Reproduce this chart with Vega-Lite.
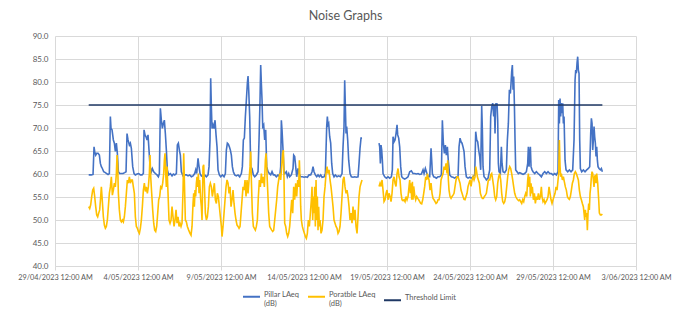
{
  "$schema": "https://vega.github.io/schema/vega-lite/v6.json",
  "width": 581,
  "height": 230,
  "autosize": {"type": "none"},
  "padding": {"left": 55, "top": 36, "right": 39, "bottom": 51},
  "background": "white",
  "title": {"text": "Noise Graphs", "fontSize": 12.5, "font": "Lato", "fontWeight": "normal", "color": "#595959", "offset": 10, "anchor": "middle"},
  "datasets": {
    "pillar": [
      {"day":2.030,"dB":59.8},{"day":2.191,"dB":59.8},{"day":2.291,"dB":59.9},{"day":2.351,"dB":65.9},{"day":2.391,"dB":64.9},{"day":2.452,"dB":64.1},{"day":2.512,"dB":64.5},{"day":2.592,"dB":64.5},{"day":2.673,"dB":64.1},{"day":2.733,"dB":62.3},{"day":2.793,"dB":61.6},{"day":2.853,"dB":61.2},{"day":2.934,"dB":60.5},{"day":3.034,"dB":60.3},{"day":3.114,"dB":60.1},{"day":3.195,"dB":59.9},{"day":3.275,"dB":60.1},{"day":3.335,"dB":72.5},{"day":3.375,"dB":69.9},{"day":3.436,"dB":69.6},{"day":3.516,"dB":67.4},{"day":3.576,"dB":66.7},{"day":3.636,"dB":64.9},{"day":3.697,"dB":66.7},{"day":3.757,"dB":64.5},{"day":3.817,"dB":60.5},{"day":3.897,"dB":60.1},{"day":3.998,"dB":60.1},{"day":4.098,"dB":60.1},{"day":4.199,"dB":60.3},{"day":4.279,"dB":60.5},{"day":4.339,"dB":68.8},{"day":4.399,"dB":67.4},{"day":4.480,"dB":66.3},{"day":4.540,"dB":66.7},{"day":4.600,"dB":65.6},{"day":4.681,"dB":61.6},{"day":4.761,"dB":60.1},{"day":4.841,"dB":59.8},{"day":4.942,"dB":60.0},{"day":5.042,"dB":60.1},{"day":5.142,"dB":59.8},{"day":5.243,"dB":59.8},{"day":5.323,"dB":60.1},{"day":5.363,"dB":69.6},{"day":5.423,"dB":68.5},{"day":5.484,"dB":68.1},{"day":5.544,"dB":67.4},{"day":5.604,"dB":68.5},{"day":5.664,"dB":65.2},{"day":5.725,"dB":61.6},{"day":5.805,"dB":60.5},{"day":5.865,"dB":61.2},{"day":5.946,"dB":60.5},{"day":6.046,"dB":60.1},{"day":6.146,"dB":59.8},{"day":6.227,"dB":59.4},{"day":6.287,"dB":60.1},{"day":6.347,"dB":74.3},{"day":6.407,"dB":71.7},{"day":6.468,"dB":69.9},{"day":6.528,"dB":71.0},{"day":6.588,"dB":71.7},{"day":6.648,"dB":68.8},{"day":6.709,"dB":65.2},{"day":6.769,"dB":60.9},{"day":6.849,"dB":59.8},{"day":6.950,"dB":60.1},{"day":7.050,"dB":59.6},{"day":7.130,"dB":60.0},{"day":7.211,"dB":59.8},{"day":7.311,"dB":60.1},{"day":7.371,"dB":66.3},{"day":7.432,"dB":66.7},{"day":7.492,"dB":65.2},{"day":7.552,"dB":64.1},{"day":7.612,"dB":60.5},{"day":7.713,"dB":59.6},{"day":7.813,"dB":59.8},{"day":7.913,"dB":59.8},{"day":8.014,"dB":59.6},{"day":8.114,"dB":59.8},{"day":8.215,"dB":59.4},{"day":8.315,"dB":59.6},{"day":8.415,"dB":60.1},{"day":8.476,"dB":60.9},{"day":8.536,"dB":60.1},{"day":8.616,"dB":63.4},{"day":8.676,"dB":61.6},{"day":8.737,"dB":60.1},{"day":8.817,"dB":59.6},{"day":8.917,"dB":59.4},{"day":9.018,"dB":59.8},{"day":9.118,"dB":59.4},{"day":9.219,"dB":59.8},{"day":9.279,"dB":61.6},{"day":9.339,"dB":67.4},{"day":9.379,"dB":80.8},{"day":9.419,"dB":74.6},{"day":9.460,"dB":69.9},{"day":9.520,"dB":70.7},{"day":9.580,"dB":69.9},{"day":9.640,"dB":71.7},{"day":9.701,"dB":68.5},{"day":9.761,"dB":65.9},{"day":9.821,"dB":60.9},{"day":9.901,"dB":59.8},{"day":9.982,"dB":59.4},{"day":10.082,"dB":59.8},{"day":10.183,"dB":59.4},{"day":10.263,"dB":60.1},{"day":10.323,"dB":65.2},{"day":10.383,"dB":66.7},{"day":10.444,"dB":66.5},{"day":10.504,"dB":65.9},{"day":10.564,"dB":65.2},{"day":10.624,"dB":64.1},{"day":10.685,"dB":61.6},{"day":10.745,"dB":60.5},{"day":10.825,"dB":59.8},{"day":10.925,"dB":59.6},{"day":11.026,"dB":59.8},{"day":11.126,"dB":59.4},{"day":11.227,"dB":60.1},{"day":11.287,"dB":61.6},{"day":11.347,"dB":67.4},{"day":11.407,"dB":67.8},{"day":11.468,"dB":72.5},{"day":11.528,"dB":76.1},{"day":11.588,"dB":79.7},{"day":11.628,"dB":81.3},{"day":11.669,"dB":78.3},{"day":11.729,"dB":72.5},{"day":11.789,"dB":61.6},{"day":11.869,"dB":61.2},{"day":11.950,"dB":59.8},{"day":12.030,"dB":59.4},{"day":12.130,"dB":59.8},{"day":12.231,"dB":60.5},{"day":12.291,"dB":67.4},{"day":12.351,"dB":76.1},{"day":12.391,"dB":83.7},{"day":12.431,"dB":79.7},{"day":12.472,"dB":76.1},{"day":12.512,"dB":70.3},{"day":12.572,"dB":70.7},{"day":12.632,"dB":67.4},{"day":12.693,"dB":69.6},{"day":12.753,"dB":61.6},{"day":12.833,"dB":60.5},{"day":12.913,"dB":60.1},{"day":12.994,"dB":59.8},{"day":13.074,"dB":60.5},{"day":13.154,"dB":59.8},{"day":13.235,"dB":59.8},{"day":13.335,"dB":59.4},{"day":13.435,"dB":59.8},{"day":13.536,"dB":59.4},{"day":13.596,"dB":61.6},{"day":13.636,"dB":71.7},{"day":13.676,"dB":69.6},{"day":13.737,"dB":65.2},{"day":13.797,"dB":60.5},{"day":13.837,"dB":60.1},{"day":13.937,"dB":60.5},{"day":13.998,"dB":59.4},{"day":14.078,"dB":60.1},{"day":14.138,"dB":59.4},{"day":14.239,"dB":59.8},{"day":14.339,"dB":61.2},{"day":14.379,"dB":64.1},{"day":14.439,"dB":63.8},{"day":14.500,"dB":61.6},{"day":14.560,"dB":59.4},{"day":14.640,"dB":61.2},{"day":14.700,"dB":60.1},{"day":14.801,"dB":59.4},{"day":14.901,"dB":59.4},{"day":15.002,"dB":59.3},{"day":15.102,"dB":59.4},{"day":15.202,"dB":59.3},{"day":15.303,"dB":59.8},{"day":15.403,"dB":59.8},{"day":15.484,"dB":60.5},{"day":15.544,"dB":61.6},{"day":15.604,"dB":60.5},{"day":15.684,"dB":59.8},{"day":15.765,"dB":59.4},{"day":15.845,"dB":59.8},{"day":15.925,"dB":59.4},{"day":16.006,"dB":59.8},{"day":16.086,"dB":59.3},{"day":16.207,"dB":59.4},{"day":16.287,"dB":60.1},{"day":16.327,"dB":65.2},{"day":16.367,"dB":70.3},{"day":16.407,"dB":72.5},{"day":16.447,"dB":70.7},{"day":16.488,"dB":71.0},{"day":16.548,"dB":68.1},{"day":16.608,"dB":66.7},{"day":16.668,"dB":62.3},{"day":16.729,"dB":60.1},{"day":16.809,"dB":59.4},{"day":16.889,"dB":59.8},{"day":16.990,"dB":59.4},{"day":17.090,"dB":59.6},{"day":17.190,"dB":59.4},{"day":17.291,"dB":60.1},{"day":17.351,"dB":65.9},{"day":17.411,"dB":70.3},{"day":17.451,"dB":80.4},{"day":17.492,"dB":74.6},{"day":17.532,"dB":68.8},{"day":17.572,"dB":70.3},{"day":17.632,"dB":67.4},{"day":17.692,"dB":63.0},{"day":17.773,"dB":60.1},{"day":17.853,"dB":59.4},{"day":17.953,"dB":59.3},{"day":18.054,"dB":59.4},{"day":18.154,"dB":59.3},{"day":18.255,"dB":59.4},{"day":18.315,"dB":62.3},{"day":18.375,"dB":65.6},{"day":18.435,"dB":67.8},{"day":18.496,"dB":67.8},
      {"day":19.000,"dB":null},
      {"day":19.520,"dB":66.7},{"day":19.560,"dB":65.9},{"day":19.601,"dB":62.3},{"day":19.641,"dB":66.3},{"day":19.681,"dB":65.2},{"day":19.721,"dB":63.0},{"day":19.761,"dB":60.1},{"day":19.862,"dB":59.4},{"day":19.962,"dB":59.1},{"day":20.062,"dB":59.4},{"day":20.163,"dB":59.1},{"day":20.263,"dB":59.4},{"day":20.323,"dB":60.9},{"day":20.364,"dB":68.1},{"day":20.424,"dB":67.0},{"day":20.484,"dB":67.4},{"day":20.544,"dB":68.8},{"day":20.605,"dB":70.7},{"day":20.645,"dB":68.5},{"day":20.705,"dB":67.8},{"day":20.765,"dB":65.9},{"day":20.825,"dB":61.6},{"day":20.886,"dB":59.4},{"day":20.966,"dB":59.1},{"day":21.066,"dB":58.9},{"day":21.167,"dB":59.1},{"day":21.267,"dB":59.4},{"day":21.368,"dB":60.5},{"day":21.468,"dB":60.7},{"day":21.568,"dB":60.1},{"day":21.669,"dB":60.1},{"day":21.769,"dB":60.0},{"day":21.870,"dB":60.1},{"day":21.970,"dB":59.9},{"day":22.070,"dB":60.0},{"day":22.171,"dB":60.9},{"day":22.231,"dB":60.1},{"day":22.311,"dB":61.2},{"day":22.372,"dB":60.5},{"day":22.432,"dB":59.8},{"day":22.492,"dB":59.4},{"day":22.572,"dB":59.4},{"day":22.653,"dB":65.6},{"day":22.693,"dB":63.0},{"day":22.733,"dB":60.1},{"day":22.813,"dB":59.4},{"day":22.894,"dB":59.3},{"day":22.974,"dB":59.1},{"day":23.074,"dB":59.4},{"day":23.175,"dB":59.4},{"day":23.275,"dB":59.8},{"day":23.335,"dB":71.7},{"day":23.396,"dB":66.7},{"day":23.456,"dB":64.5},{"day":23.516,"dB":66.3},{"day":23.576,"dB":64.1},{"day":23.637,"dB":65.9},{"day":23.697,"dB":62.7},{"day":23.777,"dB":59.8},{"day":23.878,"dB":59.4},{"day":23.978,"dB":59.3},{"day":24.078,"dB":59.1},{"day":24.179,"dB":59.4},{"day":24.279,"dB":59.3},{"day":24.339,"dB":65.9},{"day":24.400,"dB":67.8},{"day":24.460,"dB":67.0},{"day":24.520,"dB":66.7},{"day":24.580,"dB":65.9},{"day":24.641,"dB":64.9},{"day":24.701,"dB":61.6},{"day":24.781,"dB":59.4},{"day":24.882,"dB":59.1},{"day":24.982,"dB":59.3},{"day":25.083,"dB":59.1},{"day":25.183,"dB":59.4},{"day":25.283,"dB":59.8},{"day":25.344,"dB":69.2},{"day":25.404,"dB":67.4},{"day":25.464,"dB":67.0},{"day":25.524,"dB":65.2},{"day":25.585,"dB":63.8},{"day":25.645,"dB":60.9},{"day":25.705,"dB":74.8},{"day":25.745,"dB":69.6},{"day":25.785,"dB":61.6},{"day":25.846,"dB":59.4},{"day":25.926,"dB":59.1},{"day":25.986,"dB":58.7},{"day":26.087,"dB":59.1},{"day":26.187,"dB":60.9},{"day":26.247,"dB":72.5},{"day":26.307,"dB":74.6},{"day":26.368,"dB":75.4},{"day":26.428,"dB":72.5},{"day":26.468,"dB":75.0},{"day":26.508,"dB":68.8},{"day":26.548,"dB":75.4},{"day":26.589,"dB":74.6},{"day":26.629,"dB":75.4},{"day":26.669,"dB":71.7},{"day":26.709,"dB":62.3},{"day":26.749,"dB":60.5},{"day":26.830,"dB":60.1},{"day":26.890,"dB":65.9},{"day":26.930,"dB":62.3},{"day":26.990,"dB":60.5},{"day":27.091,"dB":60.3},{"day":27.191,"dB":60.9},{"day":27.251,"dB":67.4},{"day":27.311,"dB":71.0},{"day":27.372,"dB":78.3},{"day":27.432,"dB":77.5},{"day":27.472,"dB":79.7},{"day":27.512,"dB":82.3},{"day":27.552,"dB":83.7},{"day":27.593,"dB":78.3},{"day":27.633,"dB":81.2},{"day":27.673,"dB":75.4},{"day":27.713,"dB":67.4},{"day":27.753,"dB":60.9},{"day":27.834,"dB":60.5},{"day":27.914,"dB":60.1},{"day":27.994,"dB":60.3},{"day":28.095,"dB":60.1},{"day":28.195,"dB":59.9},{"day":28.295,"dB":60.1},{"day":28.396,"dB":60.5},{"day":28.476,"dB":62.3},{"day":28.516,"dB":65.9},{"day":28.557,"dB":61.6},{"day":28.597,"dB":64.5},{"day":28.637,"dB":65.9},{"day":28.677,"dB":61.6},{"day":28.737,"dB":60.9},{"day":28.798,"dB":60.5},{"day":28.898,"dB":60.1},{"day":28.998,"dB":60.5},{"day":29.099,"dB":60.1},{"day":29.199,"dB":59.8},{"day":29.299,"dB":59.4},{"day":29.400,"dB":60.1},{"day":29.500,"dB":60.5},{"day":29.600,"dB":60.1},{"day":29.701,"dB":60.5},{"day":29.801,"dB":60.1},{"day":29.902,"dB":60.1},{"day":30.002,"dB":59.8},{"day":30.103,"dB":60.1},{"day":30.203,"dB":59.8},{"day":30.303,"dB":60.5},{"day":30.344,"dB":76.1},{"day":30.384,"dB":71.0},{"day":30.424,"dB":76.4},{"day":30.464,"dB":72.5},{"day":30.504,"dB":75.4},{"day":30.545,"dB":73.2},{"day":30.585,"dB":75.4},{"day":30.625,"dB":71.0},{"day":30.665,"dB":72.5},{"day":30.725,"dB":63.0},{"day":30.785,"dB":60.9},{"day":30.886,"dB":60.5},{"day":30.986,"dB":60.9},{"day":31.087,"dB":60.5},{"day":31.187,"dB":60.9},{"day":31.267,"dB":67.4},{"day":31.328,"dB":80.4},{"day":31.368,"dB":82.6},{"day":31.408,"dB":81.9},{"day":31.448,"dB":84.1},{"day":31.488,"dB":85.5},{"day":31.528,"dB":82.6},{"day":31.568,"dB":81.9},{"day":31.609,"dB":67.4},{"day":31.649,"dB":61.2},{"day":31.729,"dB":60.5},{"day":31.830,"dB":60.9},{"day":31.930,"dB":60.5},{"day":32.030,"dB":60.9},{"day":32.131,"dB":61.2},{"day":32.211,"dB":61.6},{"day":32.271,"dB":68.8},{"day":32.312,"dB":72.1},{"day":32.352,"dB":71.0},{"day":32.392,"dB":65.2},{"day":32.432,"dB":67.4},{"day":32.472,"dB":70.3},{"day":32.512,"dB":68.1},{"day":32.552,"dB":66.7},{"day":32.593,"dB":63.8},{"day":32.633,"dB":65.9},{"day":32.673,"dB":63.0},{"day":32.713,"dB":61.6},{"day":32.773,"dB":61.2},{"day":32.854,"dB":60.9},{"day":32.914,"dB":61.2},{"day":32.974,"dB":60.5}
    ],
    "portable": [
      {"day":2.030,"dB":52.9},{"day":2.090,"dB":52.5},{"day":2.150,"dB":53.3},{"day":2.211,"dB":55.1},{"day":2.271,"dB":56.5},{"day":2.331,"dB":56.9},{"day":2.391,"dB":55.1},{"day":2.452,"dB":52.9},{"day":2.512,"dB":51.1},{"day":2.572,"dB":50.7},{"day":2.632,"dB":51.5},{"day":2.693,"dB":52.2},{"day":2.753,"dB":55.1},{"day":2.793,"dB":57.2},{"day":2.833,"dB":55.1},{"day":2.873,"dB":52.9},{"day":2.913,"dB":50.7},{"day":2.974,"dB":48.9},{"day":3.034,"dB":48.2},{"day":3.094,"dB":48.6},{"day":3.154,"dB":50.0},{"day":3.215,"dB":52.9},{"day":3.275,"dB":55.8},{"day":3.335,"dB":57.2},{"day":3.395,"dB":59.4},{"day":3.456,"dB":55.4},{"day":3.516,"dB":56.5},{"day":3.576,"dB":58.0},{"day":3.636,"dB":57.2},{"day":3.697,"dB":60.1},{"day":3.737,"dB":64.1},{"day":3.777,"dB":61.6},{"day":3.817,"dB":55.8},{"day":3.877,"dB":52.2},{"day":3.938,"dB":50.0},{"day":3.998,"dB":49.6},{"day":4.058,"dB":50.0},{"day":4.118,"dB":49.6},{"day":4.179,"dB":50.7},{"day":4.239,"dB":52.9},{"day":4.299,"dB":55.8},{"day":4.359,"dB":58.7},{"day":4.420,"dB":58.0},{"day":4.480,"dB":59.4},{"day":4.540,"dB":58.0},{"day":4.600,"dB":58.7},{"day":4.660,"dB":58.7},{"day":4.721,"dB":57.2},{"day":4.781,"dB":55.8},{"day":4.841,"dB":50.7},{"day":4.901,"dB":48.6},{"day":4.962,"dB":48.2},{"day":5.022,"dB":47.5},{"day":5.082,"dB":47.1},{"day":5.142,"dB":48.2},{"day":5.203,"dB":50.0},{"day":5.263,"dB":52.9},{"day":5.323,"dB":56.5},{"day":5.383,"dB":58.0},{"day":5.444,"dB":56.2},{"day":5.504,"dB":57.2},{"day":5.564,"dB":55.8},{"day":5.624,"dB":57.2},{"day":5.685,"dB":60.1},{"day":5.725,"dB":64.1},{"day":5.765,"dB":59.4},{"day":5.825,"dB":55.8},{"day":5.885,"dB":52.2},{"day":5.946,"dB":49.3},{"day":6.006,"dB":47.8},{"day":6.066,"dB":47.5},{"day":6.126,"dB":48.6},{"day":6.187,"dB":51.5},{"day":6.247,"dB":54.4},{"day":6.307,"dB":55.1},{"day":6.367,"dB":57.2},{"day":6.428,"dB":56.9},{"day":6.488,"dB":58.0},{"day":6.548,"dB":60.1},{"day":6.588,"dB":63.0},{"day":6.628,"dB":64.5},{"day":6.669,"dB":60.1},{"day":6.709,"dB":57.2},{"day":6.749,"dB":61.6},{"day":6.809,"dB":55.8},{"day":6.869,"dB":50.0},{"day":6.930,"dB":49.3},{"day":6.990,"dB":50.0},{"day":7.050,"dB":52.9},{"day":7.110,"dB":50.7},{"day":7.171,"dB":48.6},{"day":7.231,"dB":50.0},{"day":7.291,"dB":52.2},{"day":7.351,"dB":49.3},{"day":7.412,"dB":50.7},{"day":7.472,"dB":48.6},{"day":7.532,"dB":49.3},{"day":7.592,"dB":48.6},{"day":7.652,"dB":49.3},{"day":7.713,"dB":56.5},{"day":7.753,"dB":64.5},{"day":7.793,"dB":58.7},{"day":7.853,"dB":50.0},{"day":7.913,"dB":49.6},{"day":7.974,"dB":48.6},{"day":8.054,"dB":47.8},{"day":8.134,"dB":47.1},{"day":8.195,"dB":46.7},{"day":8.255,"dB":48.6},{"day":8.315,"dB":53.6},{"day":8.355,"dB":55.8},{"day":8.395,"dB":52.9},{"day":8.436,"dB":56.5},{"day":8.476,"dB":55.1},{"day":8.516,"dB":58.0},{"day":8.556,"dB":59.4},{"day":8.596,"dB":57.2},{"day":8.636,"dB":60.1},{"day":8.676,"dB":55.8},{"day":8.717,"dB":58.7},{"day":8.777,"dB":54.4},{"day":8.817,"dB":52.9},{"day":8.857,"dB":50.0},{"day":8.917,"dB":61.6},{"day":8.958,"dB":62.0},{"day":8.998,"dB":58.0},{"day":9.058,"dB":51.5},{"day":9.118,"dB":50.0},{"day":9.179,"dB":50.7},{"day":9.239,"dB":52.9},{"day":9.299,"dB":57.2},{"day":9.359,"dB":58.0},{"day":9.419,"dB":57.2},{"day":9.480,"dB":55.1},{"day":9.540,"dB":56.5},{"day":9.600,"dB":58.0},{"day":9.660,"dB":54.4},{"day":9.721,"dB":53.6},{"day":9.781,"dB":55.8},{"day":9.841,"dB":55.1},{"day":9.901,"dB":52.9},{"day":9.962,"dB":50.7},{"day":10.022,"dB":48.6},{"day":10.062,"dB":46.4},{"day":10.122,"dB":48.6},{"day":10.183,"dB":51.5},{"day":10.243,"dB":54.4},{"day":10.303,"dB":57.2},{"day":10.363,"dB":58.7},{"day":10.424,"dB":58.0},{"day":10.484,"dB":55.8},{"day":10.544,"dB":57.2},{"day":10.604,"dB":52.9},{"day":10.665,"dB":54.4},{"day":10.725,"dB":56.5},{"day":10.785,"dB":53.6},{"day":10.845,"dB":51.5},{"day":10.905,"dB":50.0},{"day":10.966,"dB":48.9},{"day":11.026,"dB":48.6},{"day":11.086,"dB":48.2},{"day":11.146,"dB":48.6},{"day":11.207,"dB":51.5},{"day":11.267,"dB":54.4},{"day":11.327,"dB":57.2},{"day":11.387,"dB":56.5},{"day":11.448,"dB":58.7},{"day":11.508,"dB":55.1},{"day":11.568,"dB":58.7},{"day":11.628,"dB":55.8},{"day":11.689,"dB":58.7},{"day":11.749,"dB":61.6},{"day":11.789,"dB":64.9},{"day":11.829,"dB":58.7},{"day":11.889,"dB":51.5},{"day":11.950,"dB":48.6},{"day":12.010,"dB":48.2},{"day":12.070,"dB":47.8},{"day":12.130,"dB":48.6},{"day":12.191,"dB":50.0},{"day":12.251,"dB":55.1},{"day":12.311,"dB":58.7},{"day":12.371,"dB":57.2},{"day":12.431,"dB":60.1},{"day":12.492,"dB":58.0},{"day":12.552,"dB":59.4},{"day":12.612,"dB":57.2},{"day":12.672,"dB":63.0},{"day":12.713,"dB":64.5},{"day":12.753,"dB":61.6},{"day":12.813,"dB":56.5},{"day":12.873,"dB":51.5},{"day":12.934,"dB":48.6},{"day":12.994,"dB":48.2},{"day":13.054,"dB":47.8},{"day":13.114,"dB":47.5},{"day":13.175,"dB":47.8},{"day":13.235,"dB":50.0},{"day":13.295,"dB":52.2},{"day":13.355,"dB":54.4},{"day":13.415,"dB":57.2},{"day":13.476,"dB":58.7},{"day":13.536,"dB":60.1},{"day":13.596,"dB":58.7},{"day":13.656,"dB":61.6},{"day":13.717,"dB":64.5},{"day":13.757,"dB":65.2},{"day":13.797,"dB":58.7},{"day":13.837,"dB":49.3},{"day":13.897,"dB":48.6},{"day":13.957,"dB":47.1},{"day":14.018,"dB":46.4},{"day":14.078,"dB":47.1},{"day":14.138,"dB":48.6},{"day":14.198,"dB":51.5},{"day":14.259,"dB":54.4},{"day":14.319,"dB":51.5},{"day":14.379,"dB":57.2},{"day":14.439,"dB":54.4},{"day":14.500,"dB":58.0},{"day":14.560,"dB":55.1},{"day":14.620,"dB":58.7},{"day":14.680,"dB":57.2},{"day":14.721,"dB":63.0},{"day":14.761,"dB":58.7},{"day":14.801,"dB":52.9},{"day":14.841,"dB":50.0},{"day":14.901,"dB":48.6},{"day":14.961,"dB":47.8},{"day":15.022,"dB":47.1},{"day":15.082,"dB":46.4},{"day":15.142,"dB":46.0},{"day":15.202,"dB":47.1},{"day":15.263,"dB":50.0},{"day":15.323,"dB":48.6},{"day":15.383,"dB":51.5},{"day":15.443,"dB":54.4},{"day":15.484,"dB":57.2},{"day":15.524,"dB":50.0},{"day":15.564,"dB":55.1},{"day":15.604,"dB":51.5},{"day":15.644,"dB":57.2},{"day":15.684,"dB":48.6},{"day":15.725,"dB":58.7},{"day":15.765,"dB":50.0},{"day":15.805,"dB":55.1},{"day":15.845,"dB":47.8},{"day":15.885,"dB":52.9},{"day":15.925,"dB":48.6},{"day":15.966,"dB":50.0},{"day":16.026,"dB":47.1},{"day":16.086,"dB":47.8},{"day":16.146,"dB":50.0},{"day":16.207,"dB":55.1},{"day":16.267,"dB":57.2},{"day":16.327,"dB":60.1},{"day":16.387,"dB":61.6},{"day":16.447,"dB":60.1},{"day":16.508,"dB":60.9},{"day":16.568,"dB":58.7},{"day":16.628,"dB":57.2},{"day":16.688,"dB":55.1},{"day":16.749,"dB":52.9},{"day":16.809,"dB":50.0},{"day":16.869,"dB":49.3},{"day":16.929,"dB":48.6},{"day":16.990,"dB":48.2},{"day":17.050,"dB":47.1},{"day":17.110,"dB":47.5},{"day":17.170,"dB":48.6},{"day":17.231,"dB":51.5},{"day":17.291,"dB":55.1},{"day":17.351,"dB":58.7},{"day":17.411,"dB":59.4},{"day":17.471,"dB":57.2},{"day":17.532,"dB":55.8},{"day":17.592,"dB":56.5},{"day":17.652,"dB":55.1},{"day":17.713,"dB":52.9},{"day":17.773,"dB":50.0},{"day":17.833,"dB":51.5},{"day":17.893,"dB":49.3},{"day":17.953,"dB":52.9},{"day":18.014,"dB":50.0},{"day":18.074,"dB":52.2},{"day":18.134,"dB":48.6},{"day":18.195,"dB":47.1},{"day":18.255,"dB":50.7},{"day":18.315,"dB":55.1},{"day":18.375,"dB":57.2},{"day":18.435,"dB":58.0},{"day":18.496,"dB":58.7},
      {"day":19.000,"dB":null},
      {"day":19.520,"dB":57.3},{"day":19.580,"dB":58.0},{"day":19.641,"dB":57.3},{"day":19.701,"dB":58.7},{"day":19.761,"dB":56.5},{"day":19.821,"dB":54.0},{"day":19.882,"dB":54.4},{"day":19.942,"dB":55.8},{"day":20.002,"dB":56.5},{"day":20.062,"dB":54.4},{"day":20.123,"dB":55.8},{"day":20.183,"dB":55.1},{"day":20.243,"dB":54.0},{"day":20.303,"dB":55.8},{"day":20.364,"dB":58.7},{"day":20.424,"dB":59.4},{"day":20.484,"dB":58.0},{"day":20.544,"dB":57.3},{"day":20.605,"dB":60.1},{"day":20.665,"dB":61.2},{"day":20.725,"dB":59.4},{"day":20.785,"dB":58.7},{"day":20.845,"dB":55.8},{"day":20.906,"dB":54.4},{"day":20.966,"dB":54.2},{"day":21.026,"dB":54.4},{"day":21.087,"dB":54.0},{"day":21.147,"dB":55.1},{"day":21.207,"dB":54.4},{"day":21.267,"dB":55.1},{"day":21.328,"dB":57.3},{"day":21.368,"dB":58.7},{"day":21.408,"dB":55.8},{"day":21.448,"dB":58.0},{"day":21.488,"dB":54.4},{"day":21.528,"dB":58.3},{"day":21.568,"dB":54.4},{"day":21.609,"dB":57.3},{"day":21.669,"dB":55.4},{"day":21.729,"dB":54.4},{"day":21.789,"dB":55.1},{"day":21.850,"dB":54.7},{"day":21.910,"dB":54.4},{"day":21.970,"dB":54.0},{"day":22.030,"dB":53.6},{"day":22.090,"dB":53.5},{"day":22.151,"dB":54.4},{"day":22.211,"dB":55.8},{"day":22.271,"dB":57.3},{"day":22.331,"dB":59.4},{"day":22.392,"dB":58.7},{"day":22.432,"dB":60.1},{"day":22.472,"dB":59.4},{"day":22.532,"dB":58.7},{"day":22.592,"dB":56.5},{"day":22.653,"dB":58.0},{"day":22.713,"dB":55.8},{"day":22.773,"dB":54.7},{"day":22.833,"dB":54.4},{"day":22.894,"dB":54.0},{"day":22.954,"dB":53.6},{"day":23.014,"dB":53.8},{"day":23.074,"dB":54.4},{"day":23.135,"dB":54.4},{"day":23.195,"dB":55.8},{"day":23.255,"dB":58.7},{"day":23.315,"dB":59.4},{"day":23.376,"dB":60.1},{"day":23.436,"dB":61.6},{"day":23.496,"dB":60.9},{"day":23.556,"dB":62.3},{"day":23.617,"dB":60.1},{"day":23.657,"dB":63.0},{"day":23.697,"dB":58.7},{"day":23.737,"dB":56.5},{"day":23.797,"dB":55.1},{"day":23.858,"dB":54.7},{"day":23.918,"dB":55.1},{"day":23.978,"dB":55.4},{"day":24.038,"dB":55.8},{"day":24.099,"dB":57.3},{"day":24.159,"dB":58.7},{"day":24.219,"dB":59.4},{"day":24.279,"dB":59.4},{"day":24.339,"dB":58.7},{"day":24.400,"dB":58.0},{"day":24.460,"dB":56.5},{"day":24.520,"dB":55.8},{"day":24.580,"dB":55.1},{"day":24.641,"dB":54.5},{"day":24.701,"dB":54.4},{"day":24.761,"dB":55.1},{"day":24.821,"dB":55.8},{"day":24.882,"dB":57.3},{"day":24.942,"dB":58.0},{"day":25.002,"dB":58.7},{"day":25.062,"dB":57.3},{"day":25.123,"dB":58.7},{"day":25.183,"dB":59.4},{"day":25.243,"dB":58.7},{"day":25.303,"dB":59.4},{"day":25.344,"dB":61.6},{"day":25.384,"dB":60.9},{"day":25.444,"dB":59.4},{"day":25.504,"dB":58.7},{"day":25.564,"dB":58.0},{"day":25.625,"dB":55.8},{"day":25.685,"dB":55.1},{"day":25.745,"dB":54.7},{"day":25.805,"dB":54.7},{"day":25.866,"dB":55.1},{"day":25.926,"dB":55.4},{"day":25.986,"dB":55.8},{"day":26.046,"dB":57.3},{"day":26.107,"dB":58.7},{"day":26.187,"dB":58.7},{"day":26.247,"dB":59.8},{"day":26.307,"dB":60.1},{"day":26.368,"dB":58.7},{"day":26.428,"dB":57.2},{"day":26.488,"dB":55.1},{"day":26.548,"dB":54.4},{"day":26.609,"dB":55.1},{"day":26.669,"dB":58.0},{"day":26.729,"dB":59.4},{"day":26.789,"dB":60.1},{"day":26.850,"dB":58.7},{"day":26.910,"dB":55.8},{"day":26.970,"dB":54.0},{"day":27.030,"dB":53.6},{"day":27.091,"dB":54.0},{"day":27.151,"dB":55.1},{"day":27.211,"dB":57.2},{"day":27.271,"dB":59.4},{"day":27.331,"dB":60.9},{"day":27.392,"dB":61.6},{"day":27.452,"dB":61.2},{"day":27.512,"dB":60.1},{"day":27.572,"dB":58.7},{"day":27.633,"dB":57.2},{"day":27.693,"dB":55.8},{"day":27.753,"dB":55.1},{"day":27.813,"dB":54.7},{"day":27.874,"dB":54.4},{"day":27.934,"dB":54.2},{"day":27.994,"dB":54.4},{"day":28.054,"dB":54.0},{"day":28.115,"dB":53.6},{"day":28.175,"dB":54.4},{"day":28.235,"dB":54.0},{"day":28.295,"dB":55.1},{"day":28.356,"dB":55.8},{"day":28.416,"dB":55.1},{"day":28.476,"dB":58.7},{"day":28.516,"dB":60.1},{"day":28.557,"dB":57.2},{"day":28.597,"dB":59.4},{"day":28.637,"dB":55.1},{"day":28.677,"dB":58.0},{"day":28.717,"dB":55.8},{"day":28.757,"dB":57.2},{"day":28.817,"dB":54.4},{"day":28.878,"dB":55.8},{"day":28.938,"dB":53.6},{"day":28.998,"dB":55.1},{"day":29.058,"dB":54.4},{"day":29.119,"dB":55.8},{"day":29.179,"dB":54.4},{"day":29.239,"dB":55.1},{"day":29.299,"dB":57.2},{"day":29.339,"dB":55.1},{"day":29.400,"dB":54.0},{"day":29.460,"dB":54.4},{"day":29.520,"dB":53.6},{"day":29.580,"dB":54.0},{"day":29.641,"dB":54.4},{"day":29.701,"dB":55.1},{"day":29.761,"dB":57.2},{"day":29.821,"dB":55.8},{"day":29.882,"dB":54.4},{"day":29.942,"dB":53.6},{"day":30.002,"dB":54.4},{"day":30.062,"dB":55.1},{"day":30.123,"dB":55.8},{"day":30.183,"dB":57.2},{"day":30.243,"dB":56.5},{"day":30.303,"dB":58.7},{"day":30.344,"dB":60.1},{"day":30.384,"dB":67.4},{"day":30.424,"dB":61.6},{"day":30.464,"dB":59.4},{"day":30.504,"dB":60.1},{"day":30.565,"dB":58.7},{"day":30.625,"dB":59.4},{"day":30.685,"dB":58.3},{"day":30.745,"dB":57.2},{"day":30.805,"dB":56.5},{"day":30.866,"dB":55.1},{"day":30.926,"dB":54.7},{"day":30.986,"dB":54.5},{"day":31.046,"dB":55.1},{"day":31.107,"dB":56.5},{"day":31.167,"dB":58.0},{"day":31.227,"dB":58.7},{"day":31.287,"dB":60.1},{"day":31.347,"dB":60.5},{"day":31.408,"dB":60.1},{"day":31.468,"dB":59.4},{"day":31.528,"dB":58.7},{"day":31.588,"dB":56.5},{"day":31.649,"dB":55.1},{"day":31.709,"dB":54.4},{"day":31.769,"dB":53.6},{"day":31.829,"dB":52.9},{"day":31.870,"dB":51.5},{"day":31.910,"dB":50.0},{"day":31.950,"dB":52.2},{"day":31.990,"dB":50.7},{"day":32.030,"dB":51.5},{"day":32.070,"dB":47.8},{"day":32.110,"dB":51.5},{"day":32.151,"dB":53.6},{"day":32.191,"dB":52.2},{"day":32.231,"dB":55.8},{"day":32.271,"dB":57.2},{"day":32.311,"dB":59.4},{"day":32.351,"dB":60.5},{"day":32.392,"dB":60.1},{"day":32.432,"dB":58.7},{"day":32.472,"dB":57.2},{"day":32.512,"dB":59.4},{"day":32.552,"dB":59.8},{"day":32.593,"dB":58.0},{"day":32.633,"dB":60.1},{"day":32.693,"dB":58.0},{"day":32.753,"dB":54.4},{"day":32.793,"dB":51.5},{"day":32.854,"dB":51.1},{"day":32.914,"dB":51.1},{"day":32.974,"dB":51.3}
    ],
    "threshold": [
      {"day":2.030,"dB":75},{"day":32.974,"dB":75}
    ]
  },
  "encoding": {
    "x": {
      "field": "day", "type": "quantitative",
      "scale": {"domain": [0, 35], "nice": false, "zero": false},
      "axis": {
        "title": null, "values": [0,5,10,15,20,25,30,35],
        "labelExpr": "timeFormat(datetime(2023, 3, 29 + datum.value), '%-d/%m/%Y 12:00 AM')",
        "grid": true, "gridColor": "#D9D9D9", "gridWidth": 1,
        "domain": true, "domainColor": "#D9D9D9",
        "ticks": true, "tickColor": "#D9D9D9", "tickSize": 4,
        "labelPadding": 3, "labelFontSize": 7.3, "labelFont": "Lato", "labelColor": "#595959",
        "labelFlush": false, "labelOverlap": false
      }
    },
    "y": {
      "field": "dB", "type": "quantitative",
      "scale": {"domain": [40, 90], "nice": false, "zero": false},
      "axis": {
        "title": null, "values": [40,45,50,55,60,65,70,75,80,85,90], "format": ".1f",
        "grid": true, "gridColor": "#D9D9D9", "gridWidth": 1,
        "domain": false, "ticks": false,
        "labelPadding": 7, "labelFontSize": 8, "labelFont": "Lato", "labelColor": "#595959"
      }
    },
    "color": {
      "scale": {
        "domain": ["Pillar LAeq (dB)", "Poratble LAeq (dB)", "Threshold Limit"],
        "range": ["#4472C4", "#FFC000", "#1F3864"]
      },
      "legend": {
        "title": null, "orient": "none", "legendX": 187, "legendY": 251,
        "direction": "horizontal", "columns": 3, "columnPadding": 4,
        "symbolType": "stroke", "symbolSize": 289, "symbolStrokeWidth": 2,
        "labelFontSize": 7.5, "labelFont": "Lato", "labelColor": "#595959",
        "labelBaseline": "alphabetic", "labelOffset": 3, "labelLimit": 200,
        "labelExpr": "indexof(datum.label, ' (dB)') > 0 ? [replace(datum.label, ' (dB)', ''), '(dB)'] : datum.label"
      }
    }
  },
  "layer": [
    {
      "data": {"name": "pillar"},
      "mark": {"type": "line", "strokeWidth": 1.6, "invalid": "break-paths-filter-domains"},
      "encoding": {"color": {"datum": "Pillar LAeq (dB)"}}
    },
    {
      "data": {"name": "portable"},
      "mark": {"type": "line", "strokeWidth": 1.6, "invalid": "break-paths-filter-domains"},
      "encoding": {"color": {"datum": "Poratble LAeq (dB)"}}
    },
    {
      "data": {"name": "threshold"},
      "mark": {"type": "line", "strokeWidth": 1.6},
      "encoding": {"color": {"datum": "Threshold Limit"}}
    }
  ],
  "config": {"view": {"stroke": null}, "font": "Lato"}
}
